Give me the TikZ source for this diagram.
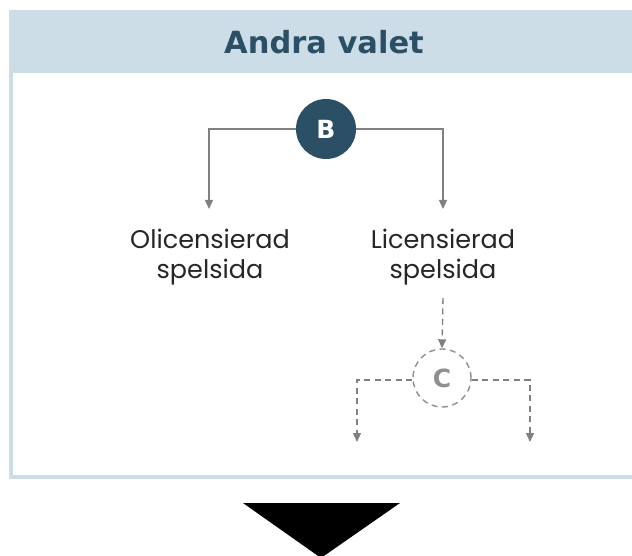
\documentclass[tikz,border=0pt]{standalone}
\usepackage{fontspec}
\setmainfont{Poppins}
\newfontfamily\headfont{DejaVu Sans}
\usetikzlibrary{arrows.meta}
\definecolor{hdrblue}{HTML}{CCDDE8}
\definecolor{darkblue}{HTML}{2B5066}
\definecolor{lgray}{HTML}{808080}
\definecolor{cgray}{HTML}{8F8F8F}
\tikzset{
  conn/.style={draw=lgray, line width=1.4pt, -{Triangle[width=8pt,length=9pt]}},
  dconn/.style={conn, dash pattern=on 6pt off 4.5pt},
  label/.style={font=\fontsize{25.5}{30}\selectfont, align=center, text=black!85, inner sep=0pt},
  letter/.style={font=\headfont\bfseries\fontsize{25}{26}\selectfont},
}
\begin{document}
\begin{tikzpicture}[x=1pt,y=-1pt]
\useasboundingbox (0,0) rectangle (632,556);
\begin{scope}
\clip (0,0) rectangle (632,556);
\fill[hdrblue] (9,10) rectangle (640,73);
\draw[hdrblue, line width=4pt] (11,73) -- (11,477) -- (640,477);
\node[font=\headfont\bfseries\fontsize{30.5}{34}\selectfont, text=darkblue] (title) at (324,42) {Andra valet};
\node[circle, fill=darkblue, minimum size=60pt, inner sep=0pt, letter, text=white] (B) at (326,129) {B};
\node[label] (oli) at (210,257) {Olicensierad\\spelsida};
\node[label] (lic) at (443,257) {Licensierad\\spelsida};
\node[circle, draw=cgray, line width=1.4pt, dash pattern=on 6pt off 4.5pt, minimum size=58pt, inner sep=0pt, letter, text=cgray] (C) at (442,378) {C};
\coordinate (oliTop) at (209,209);
\coordinate (licTop) at (443,209);
\coordinate (cl) at (357,442);
\coordinate (cr) at (530,442);
\draw[conn] (B.west) -| (oliTop);
\draw[conn] (B.east) -| (licTop);
\draw[dconn] (443,298) -- (C.north);
\draw[dconn] (C.west |- 0,380) -- (357,380) -- (cl);
\draw[dconn] (C.east |- 0,380) -- (530,380) -- (cr);
\fill[black] (243,503) -- (400,503) -- (321,558) -- cycle;
\end{scope}
\end{tikzpicture}
\end{document}
